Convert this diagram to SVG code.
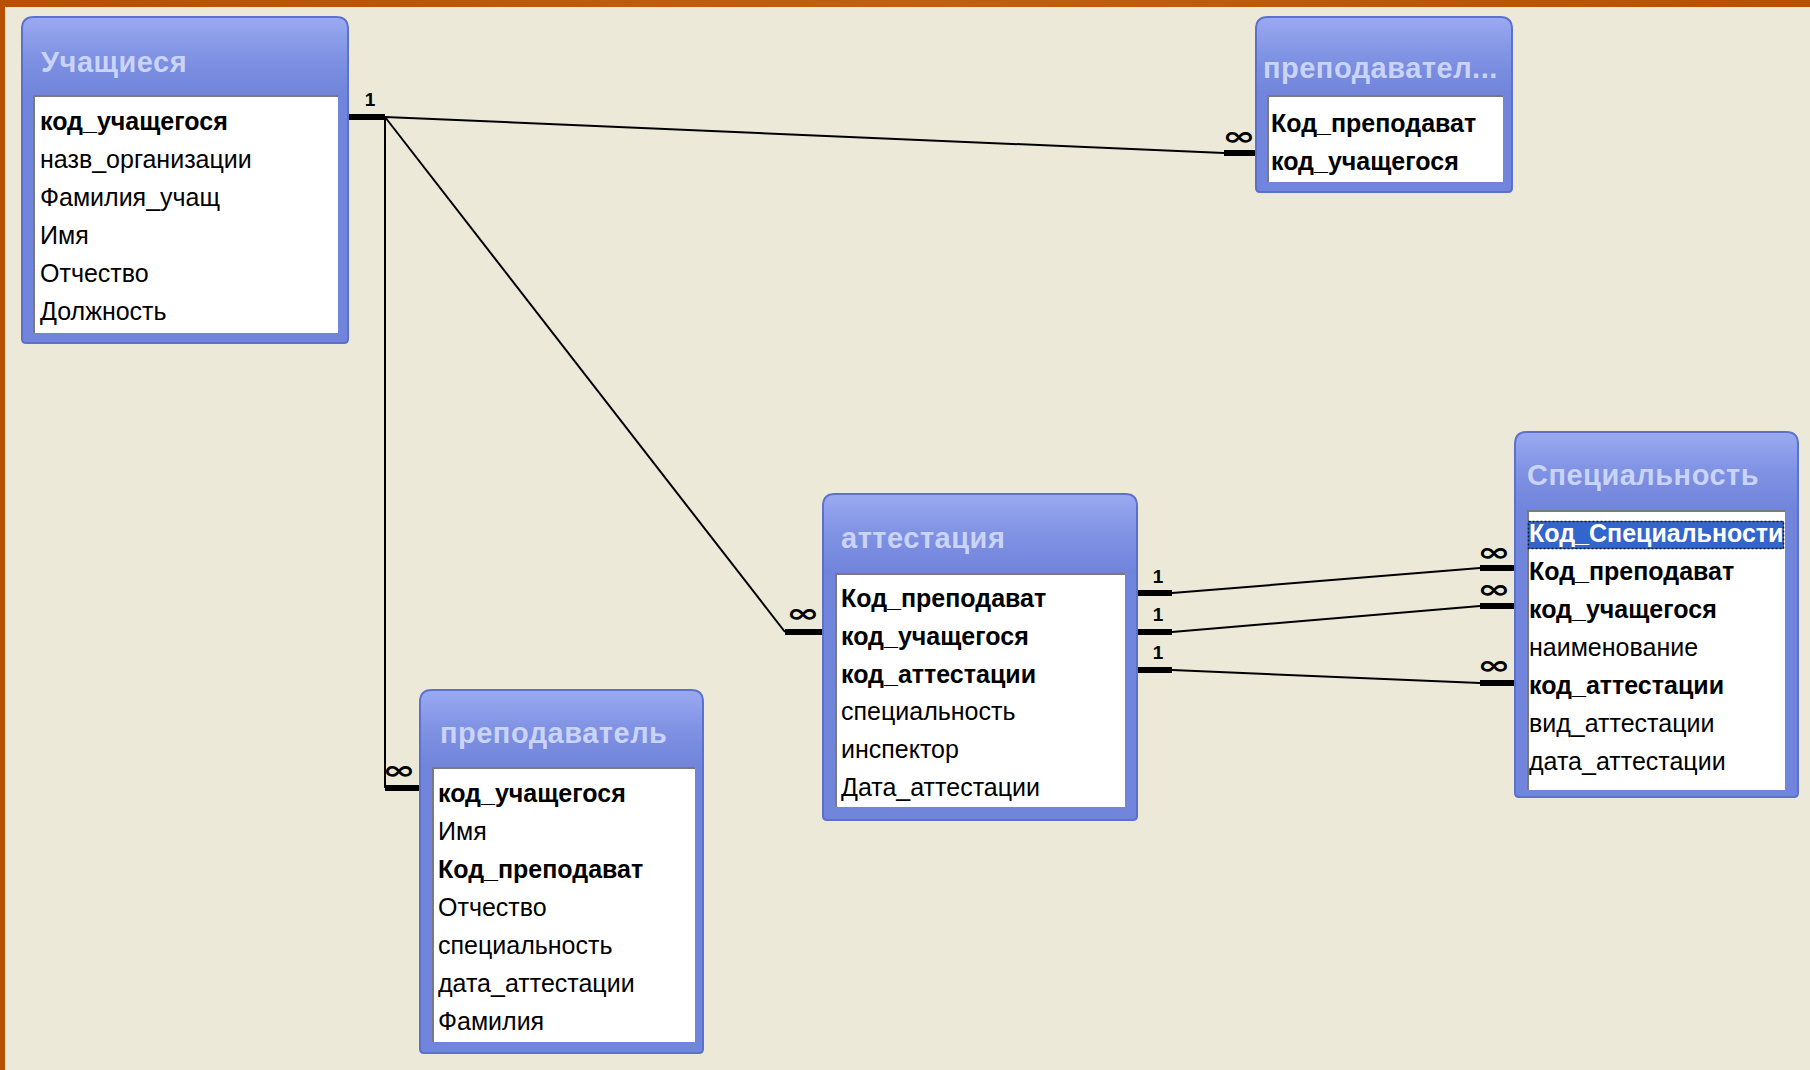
<svg xmlns="http://www.w3.org/2000/svg" width="1810" height="1070" viewBox="0 0 1810 1070">
<defs>
<linearGradient id="tg" x1="0" y1="0" x2="0" y2="1">
<stop offset="0" stop-color="#9AA9F1"/>
<stop offset="0.5" stop-color="#7F92E3"/>
<stop offset="1" stop-color="#7084DB"/>
</linearGradient>
<linearGradient id="og" x1="0" y1="0" x2="1" y2="0">
<stop offset="0" stop-color="#B84F02"/>
<stop offset="0.5" stop-color="#C2600E"/>
<stop offset="1" stop-color="#B85000"/>
</linearGradient>
</defs>
<style>
.frame{fill:#7185DC;stroke:#5C70CD;stroke-width:2}
.tbar{fill:url(#tg)}
.list{fill:#FFFFFF}
.inset{fill:none;stroke:#7A7A7A;stroke-width:2}
.title{font-family:"Liberation Sans",Arial,sans-serif;font-weight:bold;font-size:29px;fill:#CAD4F8;letter-spacing:0.5px}
.f{font-family:"Liberation Sans",Arial,sans-serif;font-size:25px;fill:#000000}
.b{font-weight:bold}
.sel{fill:#3366CC}
.focus{fill:none;stroke:#1A1A1A;stroke-width:1.5;stroke-dasharray:2 2}
.w{fill:#FFFFFF}
.thin{stroke:#000000;stroke-width:2;fill:none}
.thick{stroke:#000000;stroke-width:6;fill:none}
.one{font-family:"Liberation Sans",Arial,sans-serif;font-weight:bold;font-size:19px;fill:#000000;text-anchor:middle}
.inf{font-family:"DejaVu Sans",sans-serif;font-weight:bold;font-size:32px;fill:#000000;text-anchor:middle}
</style>
<rect x="0" y="0" width="1810" height="1070" fill="#ECE9D8"/>
<rect x="0" y="0" width="1810" height="7" fill="url(#og)"/>
<rect x="0" y="0" width="5" height="1070" fill="#B85000"/>

<g id="connectors">
<line class="thin" x1="385" y1="117" x2="1224" y2="153"/>
<line class="thin" x1="385" y1="117" x2="785" y2="632"/>
<line class="thin" x1="385" y1="117" x2="385" y2="788"/>
<line class="thick" x1="348" y1="117" x2="385" y2="117"/>
<line class="thick" x1="1224" y1="153" x2="1256" y2="153"/>
<line class="thick" x1="785" y1="632" x2="823" y2="632"/>
<line class="thick" x1="385" y1="788" x2="420" y2="788"/>
<text class="one" x="370" y="106">1</text>
<text class="inf" transform="translate(1239,145) scale(1.25,0.8)">∞</text>
<text class="inf" transform="translate(803,622) scale(1.25,0.8)">∞</text>
<text class="inf" transform="translate(399,779) scale(1.25,0.8)">∞</text>

<line class="thin" x1="1172" y1="593" x2="1480" y2="568"/>
<line class="thin" x1="1172" y1="632" x2="1480" y2="606"/>
<line class="thin" x1="1172" y1="670" x2="1480" y2="683"/>
<line class="thick" x1="1137" y1="593" x2="1172" y2="593"/>
<line class="thick" x1="1137" y1="632" x2="1172" y2="632"/>
<line class="thick" x1="1137" y1="670" x2="1172" y2="670"/>
<line class="thick" x1="1480" y1="568" x2="1515" y2="568"/>
<line class="thick" x1="1480" y1="606" x2="1515" y2="606"/>
<line class="thick" x1="1480" y1="683" x2="1515" y2="683"/>
<text class="one" x="1158" y="583">1</text>
<text class="one" x="1158" y="621">1</text>
<text class="one" x="1158" y="659">1</text>
<text class="inf" transform="translate(1494,561) scale(1.25,0.8)">∞</text>
<text class="inf" transform="translate(1494,598) scale(1.25,0.8)">∞</text>
<text class="inf" transform="translate(1494,674) scale(1.25,0.8)">∞</text>
</g>

<g id="t-uchashchiesya">
<path class="frame" d="M22,29 Q22,17 34,17 H336 Q348,17 348,29 V339 Q348,343 344,343 H26 Q22,343 22,339 Z"/>
<path class="tbar" d="M23,29 Q23,18 34,18 H336 Q347,18 347,29 V95 H23 Z"/>
<text class="title" x="41" y="72">Учащиеся</text>
<rect class="list" x="33" y="95" width="305" height="238"/>
<path class="inset" d="M34,333 V96 H338"/>
<text class="f b" x="40" y="130">код_учащегося</text>
<text class="f" x="40" y="168">назв_организации</text>
<text class="f" x="40" y="206">Фамилия_учащ</text>
<text class="f" x="40" y="244">Имя</text>
<text class="f" x="40" y="282">Отчество</text>
<text class="f" x="40" y="320">Должность</text>
</g>

<g id="t-prepodavatel-top">
<path class="frame" d="M1256,29 Q1256,17 1268,17 H1500 Q1512,17 1512,29 V188 Q1512,192 1508,192 H1260 Q1256,192 1256,188 Z"/>
<path class="tbar" d="M1257,29 Q1257,18 1268,18 H1500 Q1511,18 1511,29 V95 H1257 Z"/>
<text class="title" x="1263" y="78">преподавател...</text>
<rect class="list" x="1267" y="95" width="236" height="87"/>
<path class="inset" d="M1268,182 V96 H1503"/>
<text class="f b" x="1271" y="132">Код_преподават</text>
<text class="f b" x="1271" y="170">код_учащегося</text>
</g>

<g id="t-attestaciya">
<path class="frame" d="M823,506 Q823,494 835,494 H1125 Q1137,494 1137,506 V816 Q1137,820 1133,820 H827 Q823,820 823,816 Z"/>
<path class="tbar" d="M824,506 Q824,495 835,495 H1125 Q1136,495 1136,506 V573 H824 Z"/>
<text class="title" x="841" y="548">аттестация</text>
<rect class="list" x="835" y="573" width="290" height="234"/>
<path class="inset" d="M836,807 V574 H1125"/>
<text class="f b" x="841" y="607">Код_преподават</text>
<text class="f b" x="841" y="645">код_учащегося</text>
<text class="f b" x="841" y="683">код_аттестации</text>
<text class="f" x="841" y="720">специальность</text>
<text class="f" x="841" y="758">инспектор</text>
<text class="f" x="841" y="796">Дата_аттестации</text>
</g>

<g id="t-specialnost">
<path class="frame" d="M1515,444 Q1515,432 1527,432 H1786 Q1798,432 1798,444 V793 Q1798,797 1794,797 H1519 Q1515,797 1515,793 Z"/>
<path class="tbar" d="M1516,444 Q1516,433 1527,433 H1786 Q1797,433 1797,444 V510 H1516 Z"/>
<text class="title" x="1527" y="485">Специальность</text>
<rect class="list" x="1527" y="510" width="258" height="280"/>
<path class="inset" d="M1528,790 V511 H1785"/>
<rect class="sel" x="1528" y="521" width="256" height="28"/>
<rect class="focus" x="1528.5" y="521.5" width="255" height="27"/>
<text class="f b w" x="1529" y="542">Код_Специальности</text>
<text class="f b" x="1529" y="580">Код_преподават</text>
<text class="f b" x="1529" y="618">код_учащегося</text>
<text class="f" x="1529" y="656">наименование</text>
<text class="f b" x="1529" y="694">код_аттестации</text>
<text class="f" x="1529" y="732">вид_аттестации</text>
<text class="f" x="1529" y="770">дата_аттестации</text>
</g>

<g id="t-prepodavatel">
<path class="frame" d="M420,702 Q420,690 432,690 H691 Q703,690 703,702 V1049 Q703,1053 699,1053 H424 Q420,1053 420,1049 Z"/>
<path class="tbar" d="M421,702 Q421,691 432,691 H691 Q702,691 702,702 V767 H421 Z"/>
<text class="title" x="440" y="743">преподаватель</text>
<rect class="list" x="432" y="767" width="263" height="275"/>
<path class="inset" d="M433,1042 V768 H695"/>
<text class="f b" x="438" y="802">код_учащегося</text>
<text class="f" x="438" y="840">Имя</text>
<text class="f b" x="438" y="878">Код_преподават</text>
<text class="f" x="438" y="916">Отчество</text>
<text class="f" x="438" y="954">специальность</text>
<text class="f" x="438" y="992">дата_аттестации</text>
<text class="f" x="438" y="1030">Фамилия</text>
</g>
</svg>
